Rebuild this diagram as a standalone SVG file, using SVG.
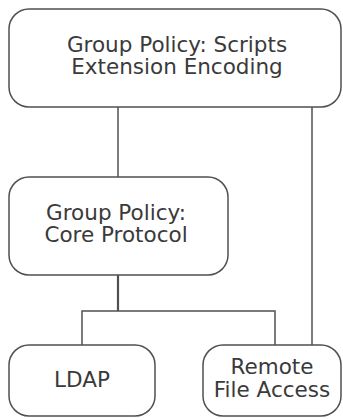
<svg xmlns="http://www.w3.org/2000/svg" width="343" height="420" viewBox="0 0 343 420">
<style>
.box{fill:#fff;stroke:#505050;stroke-width:1.5}
.t{font-family:"DejaVu Sans",Verdana,sans-serif;font-size:21.5px;fill:#3a3a3a;text-anchor:middle}
.c{fill:none;stroke:#505050;stroke-width:1.5}
</style>
<rect width="343" height="420" fill="#fff"/>
<g id="connectors">
<line class="c" x1="118" y1="107" x2="118" y2="177"/>
<line class="c" x1="312" y1="107" x2="312" y2="345"/>
<path class="c" d="M118 275 V311" style="stroke-width:2.2"/>
<path class="c" d="M82 345 V311 H275 V345"/>
</g>
<g id="scripts">
<rect class="box" x="9" y="9" width="332" height="98" rx="20"/>
<text class="t" x="177" y="52">Group Policy: Scripts</text>
<text class="t" x="177" y="74">Extension Encoding</text>
</g>
<g id="core">
<rect class="box" x="9" y="177" width="219" height="98" rx="20"/>
<text class="t" x="116" y="220">Group Policy:</text>
<text class="t" x="116" y="242">Core Protocol</text>
</g>
<g id="ldap">
<rect class="box" x="9" y="345" width="146" height="71" rx="20"/>
<text class="t" x="82" y="387">LDAP</text>
</g>
<g id="remote">
<rect class="box" x="203" y="345" width="138" height="71" rx="20"/>
<text class="t" x="272" y="374">Remote</text>
<text class="t" x="272" y="397">File Access</text>
</g>
</svg>
